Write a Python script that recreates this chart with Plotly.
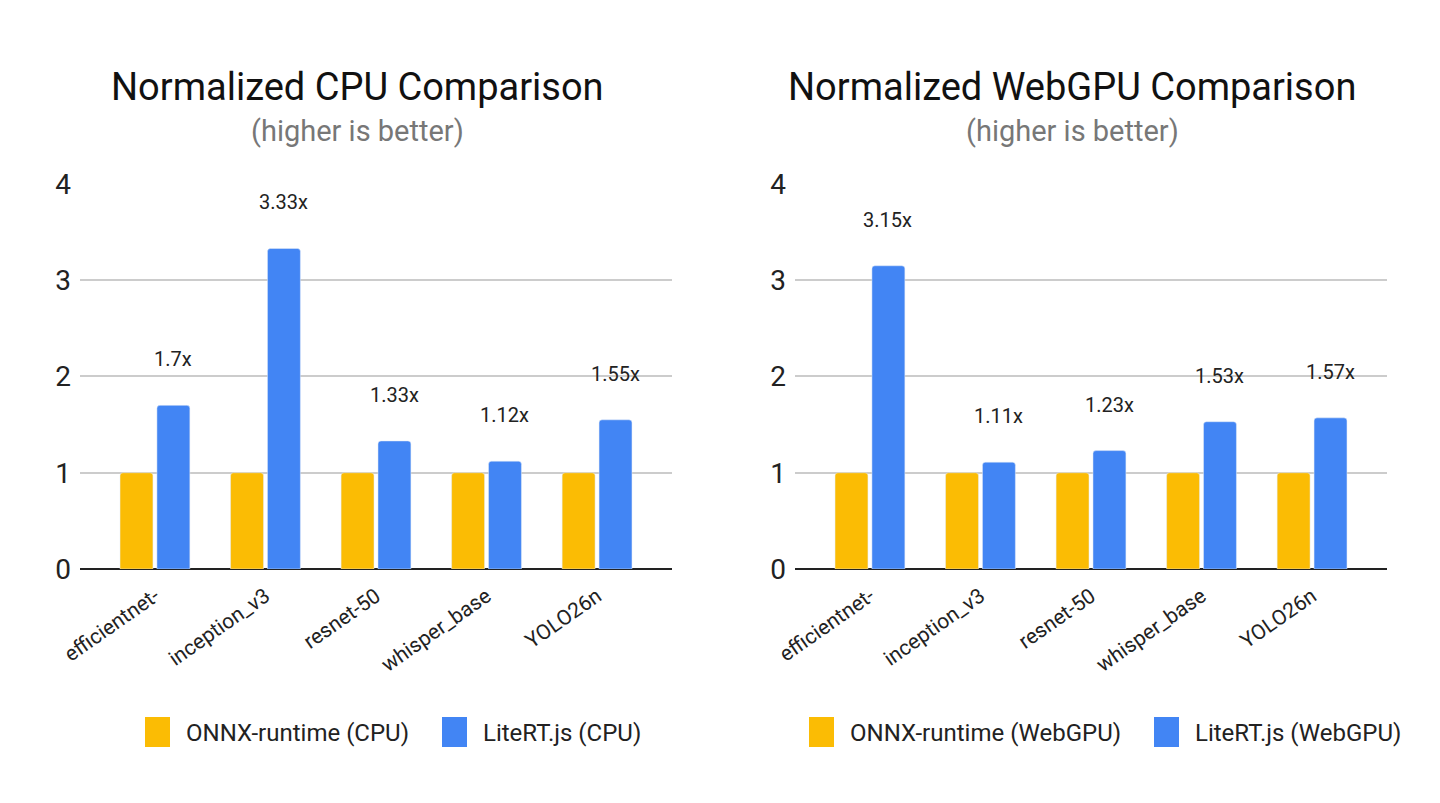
import plotly.graph_objects as go
from plotly.subplots import make_subplots

# page body adds an 8px margin, so the figure is drawn a bit smaller and offset
OFF = 8
W, H = 1440 - 2 * OFF, 803 - 2 * OFF

models = ["efficientnet-", "inception_v3", "resnet-50", "whisper_base", "YOLO26n"]
onnx_cpu = [1, 1, 1, 1, 1]
litert_cpu = [1.7, 3.33, 1.33, 1.12, 1.55]
cpu_labels = ["1.7x", "3.33x", "1.33x", "1.12x", "1.55x"]
onnx_gpu = [1, 1, 1, 1, 1]
litert_gpu = [3.15, 1.11, 1.23, 1.53, 1.57]
gpu_labels = ["3.15x", "1.11x", "1.23x", "1.53x", "1.57x"]

YELLOW = "#FBBC04"
BLUE = "#4285F4"
FONT = "Roboto"


def px_x(p):
    return (p - OFF) / W


def px_y(p):
    return 1 - (p - OFF) / H


fig = make_subplots(rows=1, cols=2)

panels = [
    (1, onnx_cpu, litert_cpu, cpu_labels),
    (2, onnx_gpu, litert_gpu, gpu_labels),
]
for col, base, lite, labels in panels:
    fig.add_trace(go.Bar(x=models, y=base, marker_color=YELLOW, showlegend=False), row=1, col=col)
    fig.add_trace(go.Bar(x=models, y=lite, marker_color=BLUE, showlegend=False), row=1, col=col)
    xref = "x" if col == 1 else "x2"
    yref = "y" if col == 1 else "y2"
    for m, v, t in zip(models, lite, labels):
        fig.add_annotation(
            x=m, y=v, xref=xref, yref=yref, text=t, showarrow=False,
            xshift=18, yshift=46, font=dict(family=FONT, size=20, color="#222"),
        )

fig.update_xaxes(
    type="category", range=[-0.678, 4.678], tickangle=-35, showgrid=False,
    tickfont=dict(family=FONT, size=21, color="#222"), ticks="", automargin=False,
    ticklabelstandoff=10,
)
fig.update_yaxes(
    range=[0, 4.01], tickvals=[0, 1, 2, 3, 4], gridcolor="#cccccc", gridwidth=1.5,
    zeroline=True, zerolinecolor="#222", zerolinewidth=2,
    tickfont=dict(family=FONT, size=28, color="#222"), ticklabelstandoff=8,
    automargin=False,
)
ydom = [px_y(569), px_y(183)]
fig.update_layout(
    xaxis=dict(domain=[px_x(80), px_x(672)]),
    xaxis2=dict(domain=[px_x(795), px_x(1387)]),
    yaxis=dict(domain=ydom),
    yaxis2=dict(domain=ydom),
)

# titles
titles = [
    (357, "Normalized CPU Comparison"),
    (1072, "Normalized WebGPU Comparison"),
]
for cx, t in titles:
    fig.add_annotation(
        x=px_x(cx), y=px_y(87), xref="paper", yref="paper", text=t, showarrow=False,
        font=dict(family=FONT, size=38, color="#111"), xanchor="center", yanchor="middle",
    )
    fig.add_annotation(
        x=px_x(cx), y=px_y(131), xref="paper", yref="paper", text="(higher is better)",
        showarrow=False, font=dict(family=FONT, size=29, color="#777"),
        xanchor="center", yanchor="middle",
    )

# manual legends with large swatches
legend_items = [
    (145, YELLOW, "ONNX-runtime (CPU)"),
    (442, BLUE, "LiteRT.js (CPU)"),
    (809, YELLOW, "ONNX-runtime (WebGPU)"),
    (1154, BLUE, "LiteRT.js (WebGPU)"),
]
for x0, color, label in legend_items:
    fig.add_shape(
        type="rect", xref="paper", yref="paper",
        x0=px_x(x0), x1=px_x(x0 + 25), y0=px_y(747), y1=px_y(717),
        fillcolor=color, line_width=0,
    )
    fig.add_annotation(
        x=px_x(x0 + 39), y=px_y(733), xref="paper", yref="paper", text=label,
        showarrow=False, xanchor="left", yanchor="middle",
        font=dict(family=FONT, size=24, color="#222"),
    )

fig.update_layout(
    width=W, height=H, margin=dict(l=0, r=0, t=0, b=0),
    paper_bgcolor="white", plot_bgcolor="white",
    barmode="group", bargap=0.332, bargroupgap=0.108, barcornerradius=3,
    font=dict(family=FONT),
)

fig.write_html("out.html")
